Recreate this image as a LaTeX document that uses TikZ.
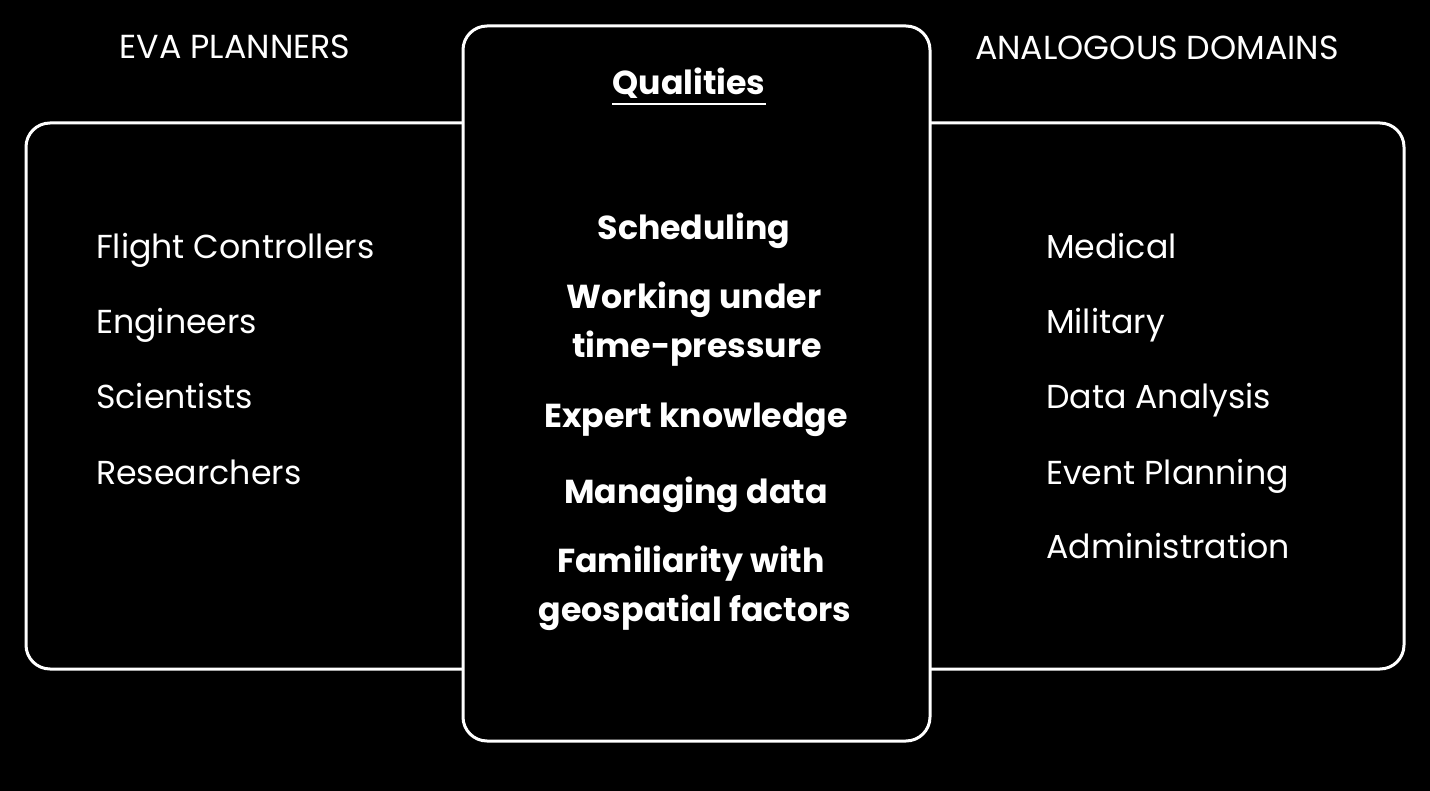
\documentclass[tikz,border=0pt]{standalone}
\usepackage{fontspec}
\setmainfont{Poppins}
\begin{document}
\begin{tikzpicture}[x=1pt,y=-1pt,
  frame/.style={draw=white,line width=3pt,rounded corners=24pt},
  item/.style={anchor=base west,text=white,inner sep=0pt,font=\fontsize{33.2}{40}\selectfont},
  qual/.style={anchor=base,text=white,inner sep=0pt,font=\fontsize{33.2}{40}\selectfont\bfseries},
  head/.style={anchor=base,text=white,inner sep=0pt,font=\fontsize{33.3}{40}\selectfont}]
\fill[black] (0,0) rectangle (1430,791);
\useasboundingbox (0,0) rectangle (1430,791);
% side boxes
\draw[frame] (26,123) rectangle (700,669);
\draw[frame] (700,123) rectangle (1404,669);
% center box
\draw[frame,fill=black] (463,26) rectangle (930,741);
% headings
\node[head] (h1) at (235,59) {EVA PLANNERS};
\node[head] (h2) at (1157,60) {ANALOGOUS DOMAINS};
\node[qual] (q) at (689,95) {Qualities};
\draw[white,line width=2pt] ([yshift=-9pt]q.base west) -- ([yshift=-9pt]q.base east);
% left list
\node[item] (l1) at (96,259) {Flight Controllers};
\node[item] (l2) at (96,334) {Engineers};
\node[item] (l3) at (96,409) {Scientists};
\node[item] (l4) at (96,484) {Researchers};
% right list
\node[item] (r1) at (1046,259) {Medical};
\node[item] (r2) at (1046,334) {Military};
\node[item] (r3) at (1046,409) {Data Analysis};
\node[item] (r4) at (1046,484) {Event Planning};
\node[item] (r5) at (1046,558) {Administration};
% qualities
\node[qual] (c1) at (694,240) {Scheduling};
\node[qual] (c2) at (694,309) {Working under};
\node[qual] (c3) at (697,358) {time-pressure};
\node[qual] (c4) at (696,428) {Expert knowledge};
\node[qual] (c5) at (696,503) {Managing data};
\node[qual] (c6) at (691,572) {Familiarity with};
\node[qual] (c7) at (695,621) {geospatial factors};
\end{tikzpicture}
\end{document}
